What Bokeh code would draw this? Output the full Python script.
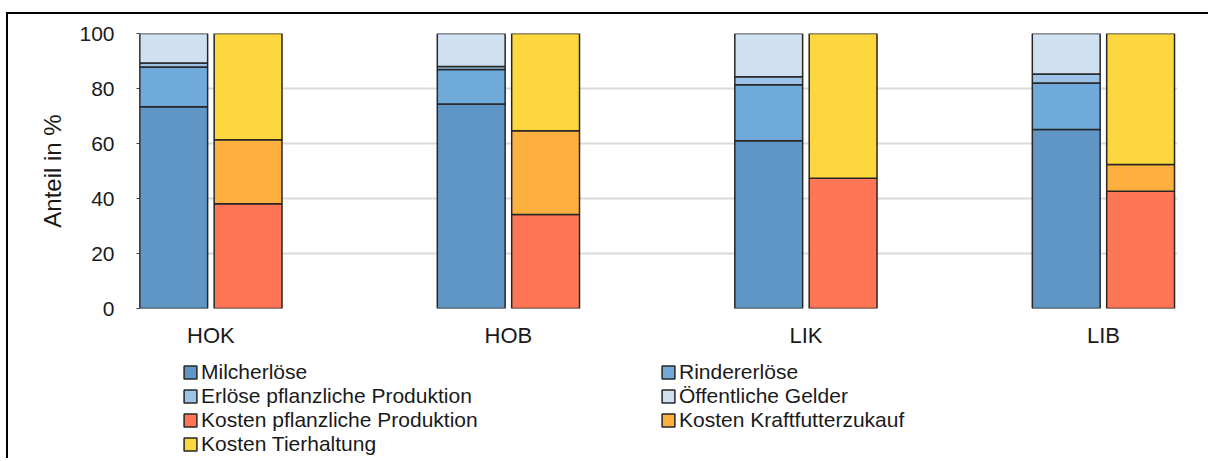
from bokeh.plotting import figure
from bokeh.layouts import column
from bokeh.models import Range1d, FixedTicker, Legend, LegendItem, ColumnDataSource
from bokeh.embed import file_html
from bokeh.resources import INLINE

# Anteile in % je Betriebsgruppe
groups = ["HOK", "HOB", "LIK", "LIB"]

# Erlöse (linke Säule)
milcherloese = [73.4, 74.4, 61.0, 65.1]
rindererloese = [14.4, 12.5, 20.4, 16.9]
erloese_pflanzlich = [1.5, 1.1, 2.9, 3.3]
oeffentliche_gelder = [10.7, 12.0, 15.7, 14.7]

# Kosten (rechte Säule)
kosten_pflanzlich = [38.1, 34.2, 47.4, 42.6]
kosten_kraftfutter = [23.3, 30.4, 0.0, 9.8]
kosten_tierhaltung = [38.6, 35.4, 52.6, 47.6]

y_ticks = [0, 20, 40, 60, 80, 100]

rev_names = ["Milcherlöse", "Rindererlöse", "Erlöse pflanzliche Produktion",
             "Öffentliche Gelder"]
cost_names = ["Kosten pflanzliche Produktion", "Kosten Kraftfutterzukauf",
              "Kosten Tierhaltung"]
rev_colors = ["#5f96c5", "#70aadb", "#9dc3e6", "#cfe0f1"]
cost_colors = ["#fe7656", "#fdb03e", "#fdd73e"]

FONT = "Liberation Sans"
OUTLINE = "#262626"
TEXT = "#1a1a1a"

pos = list(range(len(groups)))
offset = 0.125
bar_w = 0.228

src_rev = dict(
    x=[p_ - offset for p_ in pos],
    milch=milcherloese,
    rinder=rindererloese,
    erl_pfl=erloese_pflanzlich,
    oeff=oeffentliche_gelder,
)
src_cost = dict(
    x=[p_ + offset for p_ in pos],
    k_pfl=kosten_pflanzlich,
    k_kraft=kosten_kraftfutter,
    k_tier=kosten_tierhaltung,
)

# Hauptdiagramm
p = figure(
    width=1200, height=336,
    x_range=Range1d(-0.24, 3.249), y_range=Range1d(0, 100),
    output_backend="svg", toolbar_location=None,
    min_border_left=131, min_border_right=31,
    min_border_top=19, min_border_bottom=42,
)
p.outline_line_color = None
p.background_fill_color = "white"

p.vbar_stack(["milch", "rinder", "erl_pfl", "oeff"], x="x", width=bar_w,
             source=src_rev, fill_color=rev_colors,
             line_color=OUTLINE, line_width=1.5)
p.vbar_stack(["k_pfl", "k_kraft", "k_tier"], x="x", width=bar_w,
             source=src_cost, fill_color=cost_colors,
             line_color=OUTLINE, line_width=1.5)

p.xgrid.visible = False
p.ygrid.ticker = FixedTicker(ticks=y_ticks)
p.ygrid.grid_line_color = "#d9d9d9"
p.ygrid.grid_line_width = 2

p.yaxis.ticker = FixedTicker(ticks=y_ticks)
p.yaxis.axis_label = "Anteil in %"
p.yaxis.axis_label_text_font = FONT
p.yaxis.axis_label_text_font_size = "24px"
p.yaxis.axis_label_text_font_style = "normal"
p.yaxis.axis_label_text_color = TEXT
p.yaxis.axis_label_standoff = 10
p.yaxis.major_label_text_font = FONT
p.yaxis.major_label_text_font_size = "21px"
p.yaxis.major_label_text_color = TEXT
p.yaxis.major_label_standoff = 22
p.yaxis.axis_line_color = "#404040"
p.yaxis.major_tick_line_color = "#404040"
p.yaxis.major_tick_out = 3
p.yaxis.major_tick_in = 0
p.yaxis.minor_tick_line_color = None

p.xaxis.ticker = FixedTicker(ticks=pos)
p.xaxis.major_label_overrides = {i: g for i, g in zip(pos, groups)}
p.xaxis.major_label_text_font = FONT
p.xaxis.major_label_text_font_size = "22px"
p.xaxis.major_label_text_color = TEXT
p.xaxis.major_label_standoff = 8
p.xaxis.axis_line_color = None
p.xaxis.major_tick_line_color = None
p.xaxis.minor_tick_line_color = None

# Legendenbereich unter dem Diagramm (Frame mit dem Hauptdiagramm ausgerichtet)
lg = figure(
    width=1200, height=108,
    x_range=Range1d(0, 1), y_range=Range1d(0, 1),
    output_backend="svg", toolbar_location=None,
    min_border_left=0, min_border_right=0, min_border_top=0, min_border_bottom=0,
)
lg.axis.visible = False
lg.grid.visible = False
lg.outline_line_color = None

# Farbfelder der Legende: ein leerer (NaN-)Eintrag je Reihe, der nichts zeichnet
blank = ColumnDataSource(dict(x=[float("nan")], top=[float("nan")]))
swatches = {}
for name, color in zip(rev_names + cost_names, rev_colors + cost_colors):
    swatches[name] = lg.vbar(x="x", top="top", width=0.1, source=blank,
                             fill_color=color, line_color=OUTLINE, line_width=1.5)

left_col = [rev_names[0], rev_names[2], cost_names[0], cost_names[2]]
right_col = [rev_names[1], rev_names[3], cost_names[1]]

legend_style = dict(
    orientation="vertical",
    glyph_width=16, glyph_height=16, label_standoff=3,
    label_height=24, spacing=0, padding=0, margin=0,
    label_text_font=FONT, label_text_font_size="21px", label_text_color=TEXT,
    border_line_color=None, background_fill_alpha=0,
)
leg_a = Legend(items=[LegendItem(label=n, renderers=[swatches[n]]) for n in left_col],
               location=(43, 2), **legend_style)
leg_b = Legend(items=[LegendItem(label=n, renderers=[swatches[n]]) for n in right_col],
               location=(521, 26), **legend_style)
lg.add_layout(leg_a, "center")
lg.add_layout(leg_b, "center")

layout = column(p, lg, spacing=0, margin=(12, 0, 0, 6),
                styles={"border-left": "2px solid #000", "border-top": "2px solid #000"})

open("out.html", "w").write(file_html(layout, INLINE))
